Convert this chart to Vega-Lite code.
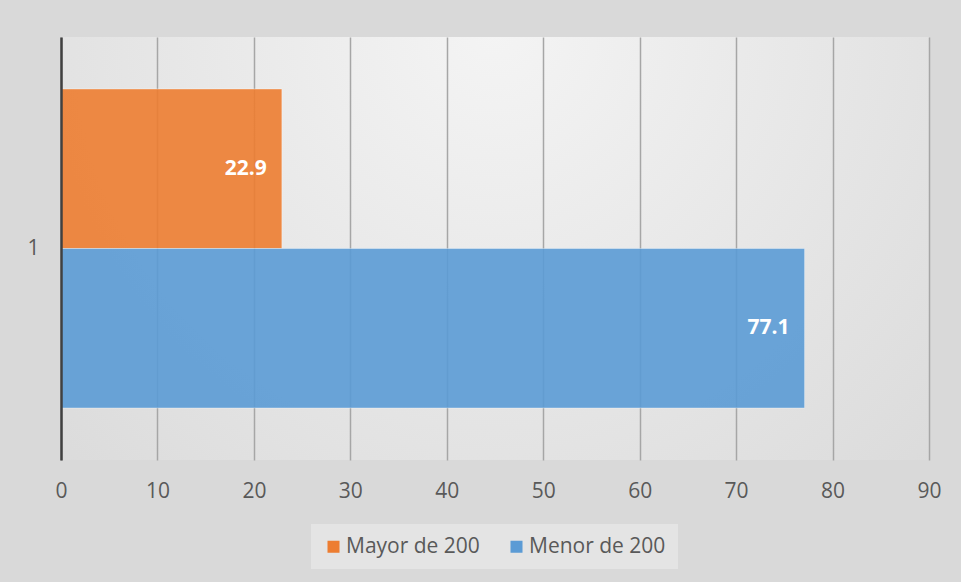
{
  "$schema": "https://vega.github.io/schema/vega-lite/v6.json",
  "width": 868,
  "height": 423,
  "autosize": {"type": "none"},
  "padding": {"left": 61, "top": 37, "right": 32, "bottom": 122},
  "background": "#d9d9d9",
  "config": {
    "font": "Open Sans",
    "view": {
      "stroke": null,
      "fill": {
        "gradient": "radial",
        "x1": 0.5, "y1": 0.25, "r1": 0,
        "x2": 0.5, "y2": 0.25, "r2": 0.8,
        "stops": [
          {"offset": 0, "color": "#f4f4f4"},
          {"offset": 1, "color": "#d8d8d8"}
        ]
      }
    }
  },
  "data": {
    "values": [
      {"cat": "1", "serie": "Mayor de 200", "valor": 22.9},
      {"cat": "1", "serie": "Menor de 200", "valor": 77.1}
    ]
  },
  "encoding": {
    "y": {
      "field": "cat",
      "type": "nominal",
      "title": null,
      "scale": {"paddingInner": 0, "paddingOuter": 0.163},
      "axis": {
        "domainColor": "#404040",
        "domainWidth": 2.5,
        "ticks": false,
        "grid": false,
        "labelFontSize": 21,
        "labelColor": "#595959",
        "labelPadding": 22,
        "labelAngle": 0,
        "zindex": 1
      }
    },
    "yOffset": {
      "field": "serie",
      "type": "nominal",
      "scale": {"paddingInner": 0, "paddingOuter": 0}
    },
    "x": {
      "field": "valor",
      "type": "quantitative",
      "title": null,
      "scale": {"domain": [0, 90], "nice": false},
      "axis": {
        "values": [0, 10, 20, 30, 40, 50, 60, 70, 80, 90],
        "domain": false,
        "ticks": false,
        "grid": true,
        "gridColor": "#a6a6a6",
        "gridWidth": 1.5,
        "labelFlush": false,
        "labelFontSize": 21,
        "labelColor": "#595959",
        "labelPadding": 20
      }
    }
  },
  "layer": [
    {
      "mark": {"type": "bar", "fillOpacity": 0.9, "stroke": "#ffffff", "strokeOpacity": 0.35, "strokeWidth": 1},
      "encoding": {
        "color": {
          "field": "serie",
          "type": "nominal",
          "scale": {"domain": ["Mayor de 200", "Menor de 200"], "range": ["#ED7D31", "#5B9BD5"]},
          "legend": {
            "title": null,
            "orient": "none",
            "direction": "horizontal",
            "legendX": 250,
            "legendY": 487,
            "padding": 12,
            "fillColor": "rgba(255,255,255,0.3)",
            "symbolType": "square",
            "symbolSize": 144,
            "symbolOpacity": 1,
            "symbolStrokeWidth": 0,
            "labelFontSize": 21,
            "labelColor": "#595959",
            "columnPadding": 26,
            "labelOffset": 2
          }
        }
      }
    },
    {
      "mark": {"type": "text", "align": "right", "baseline": "middle", "dx": -15, "color": "#ffffff", "fontWeight": "bold", "fontSize": 21},
      "encoding": {
        "text": {"field": "valor", "type": "quantitative", "format": ".1f"}
      }
    }
  ]
}
